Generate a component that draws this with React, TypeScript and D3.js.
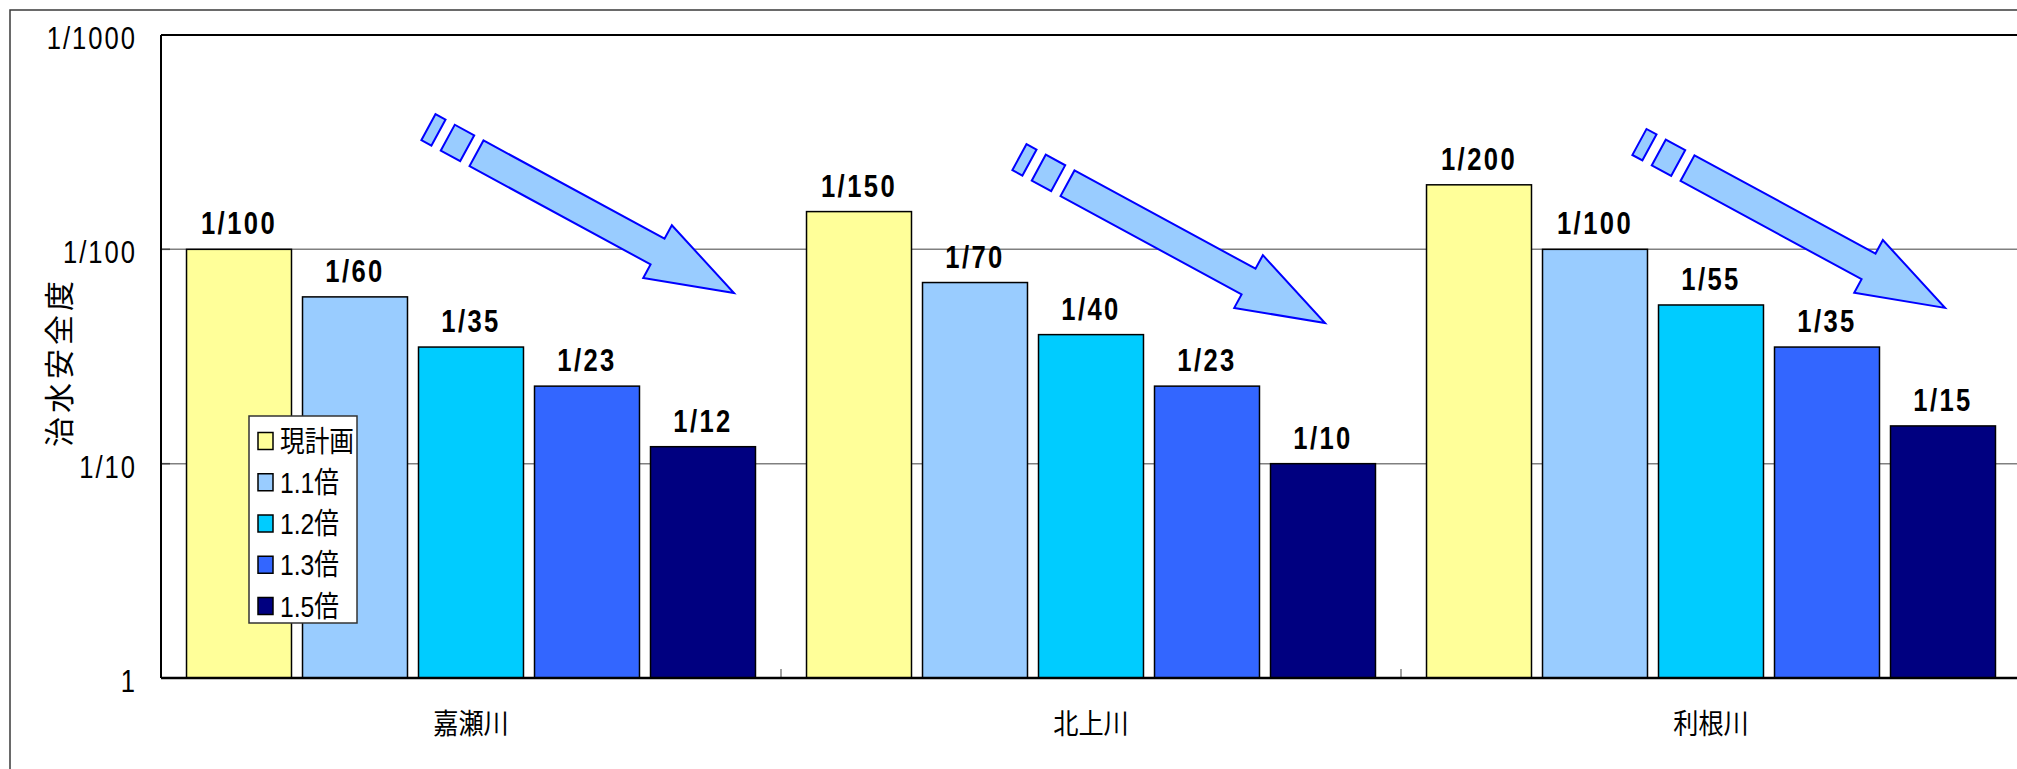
import React from 'react';
import * as d3 from 'd3';

// ---------- data ----------
const categories = ['嘉瀬川', '北上川', '利根川'];
const seriesNames = ['現計画', '1.1倍', '1.2倍', '1.3倍', '1.5倍'];
const seriesColors = ['#FFFF99', '#99CCFF', '#00CCFF', '#3366FF', '#000080'];
const genKeikaku = [100, 150, 200];
const bai11 = [60, 70, 100];
const bai12 = [35, 40, 55];
const bai13 = [23, 23, 35];
const bai15 = [12, 10, 15];
const seriesValues = [genKeikaku, bai11, bai12, bai13, bai15];
const yTicks = [1, 10, 100, 1000];
const yTickLabels = ['1', '1/10', '1/100', '1/1000'];
const yTitle = '治水安全度';
// decorative arrows: tip position (offset within category band, value)
const arrowCats = ['嘉瀬川', '北上川', '利根川'];
const arrowOffsets = [573, 544, 544];
const arrowTipValues = [62.5, 45.3, 53.3];

const W = 2017;
const H = 769;
const M = { left: 161, top: 35, right: 2021, bottom: 678 };

const numFont = "'Liberation Sans', Arial, 'Noto Sans CJK JP', sans-serif";
const jpFont = "'Noto Sans CJK JP', 'Noto Sans', sans-serif";
const NARROW = 0.8;

export default function App() {
  const x0 = d3.scaleBand<string>().domain(categories).range([M.left, M.right]);
  const x1 = d3
    .scaleBand<string>()
    .domain(seriesNames)
    .range([0, x0.bandwidth()])
    .paddingInner(0.095)
    .paddingOuter(0.22);
  const y = d3.scaleLog().domain([1, 1000]).range([M.bottom, M.top]);

  // arrow geometry (local frame, x along arrow, tip at x=0)
  const L = 293;
  const shaft = [
    [0, -14.6], [206, -14.6], [206, -30], [L, 0], [206, 30], [206, 14.6], [0, 14.6],
  ].map(([a, b]) => [a - L, b]);
  const rect2 = [[-32.7, -14.7], [-10.6, -14.7], [-10.6, 14.7], [-32.7, 14.7]].map(([a, b]) => [a - L, b]);
  const rect1 = [[-54.7, -14.8], [-43.3, -14.8], [-43.3, 14.8], [-54.7, 14.8]].map(([a, b]) => [a - L, b]);
  const line = d3.line().curve(d3.curveLinearClosed);

  return (
    <svg
      width={W}
      height={H}
      style={{ position: 'absolute', left: 0, top: 0, display: 'block', background: '#fff' }}
    >
      {/* outer chart border */}
      <rect x={10} y={10} width={W + 50} height={H + 50} fill="#fff" stroke="#3a3a3a" strokeWidth={1.5} />

      {/* gridlines */}
      {yTicks.slice(1, 3).map((t) => (
        <line key={t} x1={M.left} x2={M.right + 20} y1={y(t)} y2={y(t)} stroke="#808080" strokeWidth={1.5} />
      ))}
      {/* y ticks inward */}
      {yTicks.map((t) => (
        <line key={'yt' + t} x1={M.left} x2={M.left + 9} y1={y(t)} y2={y(t)} stroke="#444" strokeWidth={1.5} />
      ))}
      {/* category ticks */}
      {categories.slice(1).map((c) => (
        <line key={'xt' + c} x1={x0(c)!} x2={x0(c)!} y1={M.bottom} y2={M.bottom - 9} stroke="#808080" strokeWidth={1.5} />
      ))}

      {/* bars */}
      {seriesNames.map((s, si) =>
        categories.map((c, ci) => {
          const v = seriesValues[si][ci];
          const bx = x0(c)! + x1(s)!;
          return (
            <rect
              key={s + c}
              x={bx}
              y={y(v)}
              width={x1.bandwidth()}
              height={y(1) - y(v)}
              fill={seriesColors[si]}
              stroke="#000"
              strokeWidth={1.5}
            />
          );
        })
      )}

      {/* value labels */}
      {seriesNames.map((s, si) =>
        categories.map((c, ci) => {
          const v = seriesValues[si][ci];
          const cx = x0(c)! + x1(s)! + x1.bandwidth() / 2;
          return (
            <text
              key={'l' + s + c}
              transform={`translate(${cx},${y(v) - 15}) scale(${NARROW},1)`}
              textAnchor="middle"
              fontFamily={numFont}
              fontWeight="bold"
              fontSize={32}
              letterSpacing={3}
              fill="#000"
            >
              {`1/${v}`}
            </text>
          );
        })
      )}

      {/* plot frame */}
      <line x1={M.left} x2={M.right + 20} y1={M.top} y2={M.top} stroke="#000" strokeWidth={2} />
      <line x1={M.left} x2={M.left} y1={M.top} y2={M.bottom} stroke="#000" strokeWidth={2} />
      <line x1={M.left} x2={M.right + 20} y1={M.bottom} y2={M.bottom} stroke="#000" strokeWidth={2.5} />

      {/* y tick labels */}
      {yTicks.map((t, i) => (
        <text
          key={'yl' + t}
          transform={`translate(137,${y(t) + 3}) scale(${NARROW},1)`}
          textAnchor="end"
          dominantBaseline="central"
          fontFamily={numFont}
          fontSize={32}
          letterSpacing={2.5}
          fill="#000"
        >
          {yTickLabels[i]}
        </text>
      ))}

      {/* y title */}
      <text
        transform={`translate(57,${362}) rotate(-90)`}
        textAnchor="middle"
        dominantBaseline="central"
        fontFamily={jpFont}
        fontSize={30}
        letterSpacing={4}
        fill="#000"
      >
        {yTitle}
      </text>

      {/* category labels */}
      {categories.map((c) => (
        <text
          key={'c' + c}
          transform={`translate(${x0(c)! + x0.bandwidth() / 2},722) scale(0.9,1)`}
          textAnchor="middle"
          dominantBaseline="central"
          fontFamily={jpFont}
          fontSize={28}
          fill="#000"
        >
          {c}
        </text>
      ))}

      {/* arrows */}
      {arrowCats.map((c, i) => {
        const tx = x0(c)! + arrowOffsets[i];
        const ty = y(arrowTipValues[i]);
        return (
          <g key={'a' + c} transform={`translate(${tx},${ty}) rotate(28.5)`}>
            {[shaft, rect2, rect1].map((p, j) => (
              <path key={j} d={line(p as [number, number][])!} fill="#99CCFF" stroke="#0000FF" strokeWidth={2} strokeLinejoin="miter" />
            ))}
          </g>
        );
      })}

      {/* legend */}
      <g>
        <rect x={249} y={416} width={108} height={207} fill="#fff" stroke="#333" strokeWidth={1.5} />
        {seriesNames.map((s, i) => {
          const cy = 441 + i * 41.25;
          return (
            <g key={'lg' + s}>
              <rect x={258} y={cy - 8.5} width={15} height={17} fill={seriesColors[i]} stroke="#000" strokeWidth={1.5} />
              <text
                transform={`translate(280,${cy + 1}) scale(0.85,1)`}
                dominantBaseline="central"
                fontFamily={numFont}
                fontSize={29}
                fill="#000"
              >
                {s}
              </text>
            </g>
          );
        })}
      </g>
    </svg>
  );
}
